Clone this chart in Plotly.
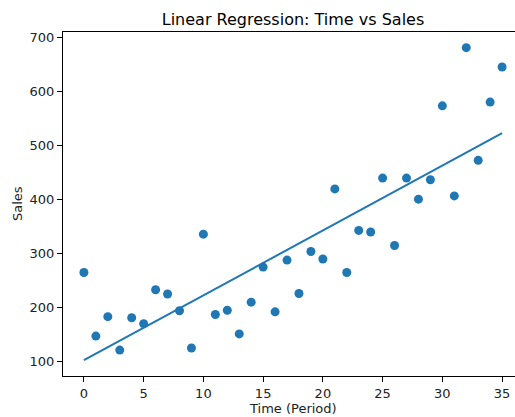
import numpy as np
import plotly.graph_objects as go

time_period = list(range(36))
sales = [265, 147, 183, 121, 181, 170, 233, 225, 194, 125,
         336, 187, 195, 151, 210, 275, 192, 288, 226, 304,
         290, 420, 265, 343, 340, 440, 315, 440, 401, 437,
         574, 407, 682, 473, 581, 646]

t = np.array(time_period, dtype=float)
s = np.array(sales, dtype=float)
slope, intercept = np.polyfit(t, s, 1)
fit = slope * t + intercept

blue = "#1f77b4"
font = "DejaVu Sans"

W, H = 530, 417
L, R, T, B = 63, 7, 32, 41
pw = W - L - R

fig = go.Figure()
fig.add_trace(go.Scatter(x=time_period, y=sales, mode="markers",
                         marker=dict(color=blue, size=9, line=dict(width=0)),
                         showlegend=False))
fig.add_trace(go.Scatter(x=time_period, y=fit, mode="lines",
                         line=dict(color=blue, width=2), showlegend=False))

axis_common = dict(showgrid=False, zeroline=False, showline=True, linecolor="black",
                   linewidth=1, mirror=True, ticks="outside", ticklen=5, tickwidth=1,
                   tickcolor="black", automargin=False,
                   tickfont=dict(family=font, size=13, color="#222"))

fig.update_layout(
    width=W, height=H,
    paper_bgcolor="white", plot_bgcolor="white",
    margin=dict(l=L, r=R, t=T, b=B, autoexpand=False),
    title=dict(text="Linear Regression: Time vs Sales", x=(L + pw / 2) / W, xanchor="center",
               y=1 - 19 / H, yanchor="middle",
               font=dict(family=font, size=16, color="black")),
    xaxis=dict(range=[-1.75, 36.75], tickvals=[0, 5, 10, 15, 20, 25, 30, 35],
               **axis_common),
    yaxis=dict(range=[73, 711], tickvals=[100, 200, 300, 400, 500, 600, 700],
               **axis_common),
    annotations=[
        dict(text="Time (Period)", xref="paper", yref="paper", x=0.5, y=-0.095,
             xanchor="center", yanchor="middle", showarrow=False,
             font=dict(family=font, size=13, color="#222")),
        dict(text="Sales", xref="paper", yref="paper", x=-46 / pw, y=0.5,
             xanchor="center", yanchor="middle", showarrow=False, textangle=-90,
             font=dict(family=font, size=13, color="#222")),
    ],
)

fig.write_html("out.html", config={"displayModeBar": False},
               post_script="document.body.style.margin='0';document.body.style.overflow='hidden';")
